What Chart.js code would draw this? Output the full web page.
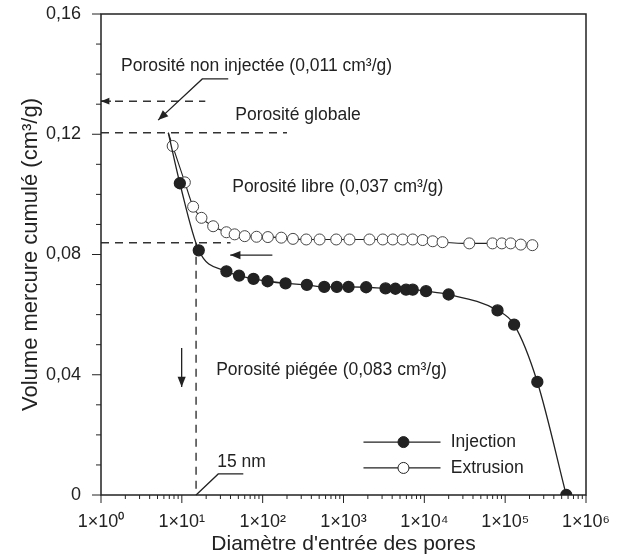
<!DOCTYPE html>
<html>
<head>
<meta charset="utf-8">
<script src="https://cdn.jsdelivr.net/npm/chart.js@4.4.1/dist/chart.umd.min.js"></script>
<style>
  html, body { margin: 0; padding: 0; background: #fff; }
  canvas { display: block; }
</style>
</head>
<body>
<canvas id="myChart" width="618" height="557"></canvas>
<script>
// injection curve (filled dots), x = pore diameter, y = cumulated volume
let injX = [6.8, 9.45, 16.2, 35.6, 51, 77, 115, 192, 352, 578, 827, 1153, 1905, 3313, 4385, 5940, 7180, 10500, 19950, 80400, 129000, 250000, 570000];
let injY = [0.1205, 0.1037, 0.0814, 0.0744, 0.073, 0.0719, 0.0711, 0.0704, 0.0699, 0.0692, 0.0692, 0.0692, 0.0691, 0.0687, 0.0686, 0.0683, 0.0683, 0.0678, 0.0667, 0.0614, 0.0567, 0.0376, 0];
// extrusion curve (open circles)
let extX = [6.8, 7.7, 10.9, 13.8, 17.5, 24.4, 35.6, 45, 60, 84, 116, 170, 237, 346, 506, 813, 1186, 2094, 3060, 4070, 5400, 7180, 9530, 12700, 16800, 36000, 69700, 91000, 117000, 156000, 217000];
let extY = [0.1205, 0.1161, 0.104, 0.0959, 0.0922, 0.0894, 0.0874, 0.0867, 0.0861, 0.0859, 0.0858, 0.0856, 0.0852, 0.085, 0.085, 0.085, 0.085, 0.085, 0.085, 0.085, 0.085, 0.085, 0.0848, 0.0844, 0.0841, 0.0837, 0.0837, 0.0837, 0.0837, 0.0833, 0.0831];
// ticks
let xExp = [0, 1, 2, 3, 4, 5, 6];
let sup = ['⁰', '¹', '²', '³', '⁴', '⁵', '⁶'];
let yTicks = [0, 0.04, 0.08, 0.12, 0.16];
// dashed guide lines
let guideY = [0.131, 0.1205, 0.0839];
let guideEnd = [19.5, 200, 40];
let poreX = 15;
// annotations
let noteText = ['Porosité non injectée (0,011 cm³/g)', 'Porosité globale', 'Porosité libre (0,037 cm³/g)', 'Porosité piégée (0,083 cm³/g)', '15 nm'];
let noteX = [1.77, 45.8, 42, 26.6, 27.4];
let noteY = [0.1427, 0.1264, 0.1025, 0.0416, 0.011];
// arrows / leaders, as lists of [x, y] in data units
let arrowNonInj = [[37.5, 0.1384], [17.9, 0.1384], [5.09, 0.1247]];
let arrowLeft = [[131.8, 0.0798], [39.7, 0.0798]];
let arrowDown = [[9.95, 0.0489], [9.95, 0.0359]];
let leader15 = [[poreX, 0], [28.2, 0.007], [57.6, 0.007]];
// legend
let legendNames = ['Injection', 'Extrusion'];
let legendY = [0.0176, 0.009];
let legendLine = [1766, 15850];
let legendMark = 5520;
let legendTextX = 21200;

let ink = '#222';
let family = '"Liberation Sans", Arial, sans-serif';
let hidden = 'rgba(0,0,0,0)';

function toPoints(xs, ys) {
    return xs.map(function (x, i) { return {x: x, y: ys[i]}; });
}

let datasets = [
    {
        label: 'Injection',
        data: toPoints(injX, injY),
        borderColor: ink,
        borderWidth: 1.3,
        pointRadius: injX.map(function (x, i) { return i === 0 ? 0 : 5.5; }),
        pointBackgroundColor: ink,
        pointBorderColor: ink,
        cubicInterpolationMode: 'monotone'
    },
    {
        label: 'Extrusion',
        data: toPoints(extX, extY),
        borderColor: ink,
        borderWidth: 1.1,
        pointRadius: extX.map(function (x, i) { return i === 0 ? 0 : 5.5; }),
        pointBackgroundColor: '#fff',
        pointBorderColor: '#444',
        pointBorderWidth: 1,
        cubicInterpolationMode: 'monotone'
    }
];
guideY.forEach(function (y, i) {
    datasets.push({
        label: 'guide' + i,
        data: [{x: 1, y: y}, {x: guideEnd[i], y: y}],
        borderColor: '#333', borderWidth: 1.4, borderDash: [8, 6], pointRadius: 0
    });
});
datasets.push({
    label: 'pore',
    data: [{x: poreX, y: guideY[2]}, {x: poreX, y: 0}],
    borderColor: '#333', borderWidth: 1.4, borderDash: [8, 6], pointRadius: 0
});

function line(ctx, x1, y1, x2, y2) {
    ctx.beginPath();
    ctx.moveTo(x1, y1);
    ctx.lineTo(x2, y2);
    ctx.stroke();
}

function drawArrow(ctx, pts, size) {
    ctx.beginPath();
    ctx.moveTo(pts[0][0], pts[0][1]);
    for (let i = 1; i < pts.length; i++) ctx.lineTo(pts[i][0], pts[i][1]);
    ctx.stroke();
    let n = pts.length;
    let tip = pts[n - 1], prev = pts[n - 2];
    let ang = Math.atan2(tip[1] - prev[1], tip[0] - prev[0]);
    ctx.beginPath();
    ctx.moveTo(tip[0], tip[1]);
    ctx.lineTo(tip[0] - size * Math.cos(ang - 0.38), tip[1] - size * Math.sin(ang - 0.38));
    ctx.lineTo(tip[0] - size * Math.cos(ang + 0.38), tip[1] - size * Math.sin(ang + 0.38));
    ctx.closePath();
    ctx.fill();
}

// frame, minor ticks, arrows, texts and legend
let extras = {
    id: 'extras',
    afterDatasetsDraw(chart) {
        let ctx = chart.ctx, a = chart.chartArea;
        let xs = chart.scales.x, ys = chart.scales.y;
        let px = function (p) { return [xs.getPixelForValue(p[0]), ys.getPixelForValue(p[1])]; };
        ctx.save();
        ctx.strokeStyle = ink;
        ctx.fillStyle = ink;
        ctx.lineWidth = 1.5;
        ctx.strokeRect(a.left, a.top, a.right - a.left, a.bottom - a.top);
        ctx.lineWidth = 1;
        for (let k = 0; k <= 16; k++) {
            let py = ys.getPixelForValue(k / 100);
            line(ctx, a.left - (k % 4 === 0 ? 9 : 5), py, a.left, py);
        }
        xExp.forEach(function (e) {
            for (let m = 1; m <= 9; m++) {
                if (e === 6 && m > 1) break;
                let pxx = xs.getPixelForValue(m * Math.pow(10, e));
                line(ctx, pxx, a.bottom, pxx, a.bottom + (m === 1 ? 8 : 4));
            }
        });
        // arrows
        ctx.lineWidth = 1.3;
        let g = ys.getPixelForValue(guideY[0]);
        drawArrow(ctx, [[a.left + 10, g], [a.left, g]], 9);
        drawArrow(ctx, arrowNonInj.map(px), 11);
        drawArrow(ctx, arrowLeft.map(px), 11);
        drawArrow(ctx, arrowDown.map(px), 11);
        ctx.beginPath();
        leader15.map(px).forEach(function (p, i) { i ? ctx.lineTo(p[0], p[1]) : ctx.moveTo(p[0], p[1]); });
        ctx.stroke();
        // texts
        ctx.font = '17.5px ' + family;
        ctx.textBaseline = 'middle';
        ctx.textAlign = 'left';
        noteText.forEach(function (t, i) {
            let p = px([noteX[i], noteY[i]]);
            ctx.fillText(t, p[0], p[1]);
        });
        // legend
        legendNames.forEach(function (name, i) {
            let py = ys.getPixelForValue(legendY[i]);
            ctx.lineWidth = 1.2;
            line(ctx, xs.getPixelForValue(legendLine[0]), py, xs.getPixelForValue(legendLine[1]), py);
            ctx.beginPath();
            ctx.arc(xs.getPixelForValue(legendMark), py, 5.5, 0, Math.PI * 2);
            ctx.fillStyle = i === 0 ? ink : '#fff';
            ctx.fill();
            ctx.lineWidth = 1;
            ctx.stroke();
            ctx.fillStyle = ink;
            ctx.fillText(name, xs.getPixelForValue(legendTextX), py);
        });
        ctx.restore();
    }
};

let ctx = document.getElementById('myChart').getContext('2d');
let chart = new Chart(ctx, {
    type: 'line',
    data: {datasets: datasets},
    options: {
        responsive: false,
        animation: false,
        layout: {padding: {top: 14, right: 32, bottom: 0, left: 0}},
        plugins: {legend: {display: false}, tooltip: {enabled: false}},
        scales: {
            x: {
                type: 'logarithmic',
                min: 1,
                max: 1e6,
                afterBuildTicks: function (s) { s.ticks = xExp.map(function (e) { return {value: Math.pow(10, e)}; }); },
                afterFit: function (s) { s.height = 62; },
                // invisible tick marks only used to push the labels away from the axis
                grid: {display: true, drawOnChartArea: false, drawTicks: true, tickLength: 16, color: hidden},
                border: {display: false},
                ticks: {
                    autoSkip: false, maxRotation: 0, padding: 0, color: ink,
                    font: {family: family, size: 18},
                    callback: function (v) { return '1×10' + sup[Math.round(Math.log10(v))]; }
                },
                title: {
                    display: true, text: "Diamètre d'entrée des pores", color: ink,
                    font: {family: family, size: 21}, padding: {top: 0, bottom: 0}
                }
            },
            y: {
                type: 'linear',
                min: 0,
                max: 0.16,
                afterBuildTicks: function (s) { s.ticks = yTicks.map(function (v) { return {value: v}; }); },
                afterFit: function (s) { s.width = 101; },
                grid: {display: true, drawOnChartArea: false, drawTicks: true, tickLength: 20, color: hidden},
                border: {display: false},
                ticks: {
                    padding: 0, color: ink,
                    font: {family: family, size: 18},
                    callback: function (v) { return v === 0 ? '0' : v.toFixed(2).replace('.', ','); }
                },
                title: {
                    display: true, text: 'Volume mercure cumulé (cm³/g)', color: ink,
                    font: {family: family, size: 22}, padding: {top: 18, bottom: 0}
                }
            }
        }
    },
    plugins: [extras]
});
</script>
</body>
</html>
